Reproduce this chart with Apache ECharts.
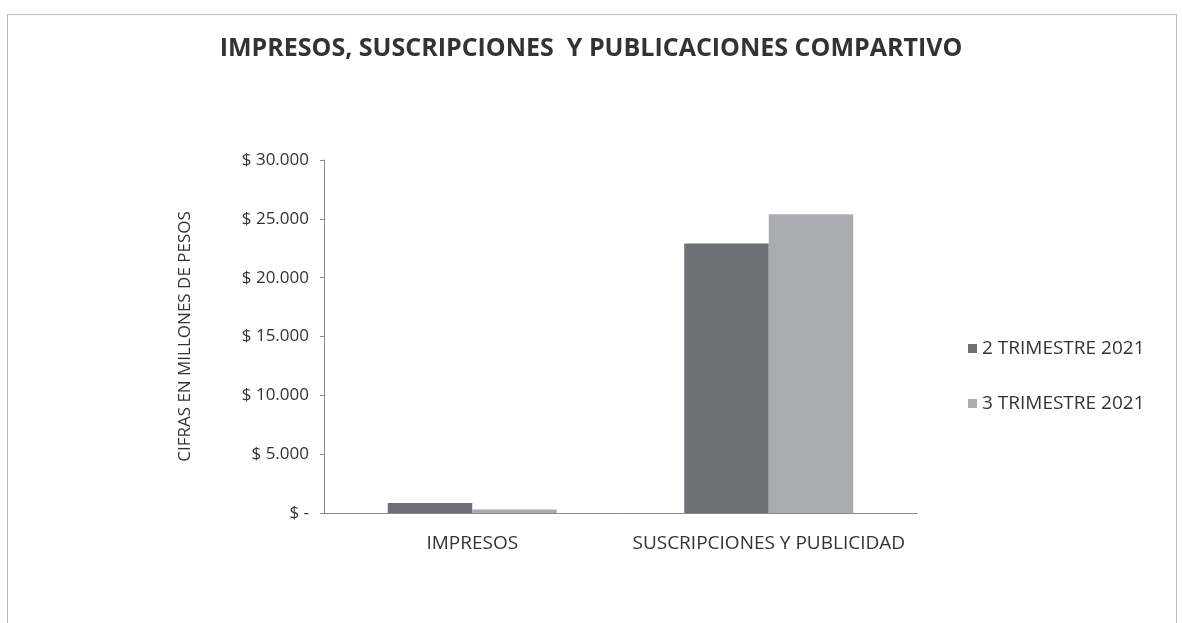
<!DOCTYPE html>
<html>
<head>
<meta charset="utf-8">
<script src="https://cdn.jsdelivr.net/npm/echarts@6/dist/echarts.min.js"></script>
<style>
  html, body { margin: 0; padding: 0; background: #fff; }
  #chart { width: 1182px; height: 623px; }
  .frame { position: absolute; left: 7px; top: 14px; width: 1170px; height: 640px; border: 1px solid #bbb; box-sizing: border-box; pointer-events: none; }
</style>
</head>
<body>
<div id="chart"></div>
<div class="frame"></div>
<script>
  // categorias y valores (millones de pesos)
  var categorias = ['IMPRESOS', 'SUSCRIPCIONES Y PUBLICIDAD'];
  var trimestre2 = [850, 22900];
  var trimestre3 = [300, 25400];
  var nombresSeries = ['2 TRIMESTRE 2021', '3 TRIMESTRE 2021'];

  function pesos(v) {
    if (v === 0) return '$ -';
    return '$ ' + v.toString().replace(/\B(?=(\d{3})+(?!\d))/g, '.');
  }

  var myChart = echarts.init(document.getElementById('chart'));
  var fuente = 'Open Sans';
  myChart.setOption({
    animation: false,
    title: {
      text: 'IMPRESOS, SUSCRIPCIONES  Y PUBLICACIONES COMPARTIVO',
      left: 'center',
      top: 31,
      textStyle: { fontFamily: fuente, fontSize: 25, fontWeight: 'bold', color: '#333' }
    },
    legend: {
      orient: 'vertical',
      left: 963,
      top: 334,
      itemGap: 36,
      itemWidth: 9,
      itemHeight: 9,
      icon: 'rect',
      textStyle: { fontFamily: fuente, fontSize: 19, color: '#333' },
      data: nombresSeries
    },
    grid: { left: 324, right: 265, top: 160, bottom: 110 },
    xAxis: {
      type: 'category',
      data: categorias,
      axisTick: { show: false },
      axisLine: { lineStyle: { color: '#888' } },
      axisLabel: { interval: 0, hideOverlap: false, fontFamily: fuente, fontSize: 19, color: '#333', margin: 21 }
    },
    yAxis: {
      type: 'value',
      min: 0,
      max: 30000,
      interval: 5000,
      name: 'CIFRAS EN MILLONES DE PESOS',
      nameLocation: 'middle',
      nameGap: 130,
      nameTextStyle: { fontFamily: fuente, fontSize: 17, color: '#333' },
      splitLine: { show: false },
      axisLine: { show: true, lineStyle: { color: '#888' } },
      axisTick: { show: true, length: 4, lineStyle: { color: '#888' } },
      axisLabel: { fontFamily: fuente, fontSize: 17, color: '#333', margin: 15, formatter: pesos }
    },
    series: [
      {
        name: nombresSeries[0],
        type: 'bar',
        data: trimestre2,
        barGap: '0%',
        barCategoryGap: '43%',
        itemStyle: { color: '#6e7075' }
      },
      {
        name: nombresSeries[1],
        type: 'bar',
        data: trimestre3,
        itemStyle: { color: '#aaabaf' }
      }
    ]
  });
</script>
</body>
</html>
